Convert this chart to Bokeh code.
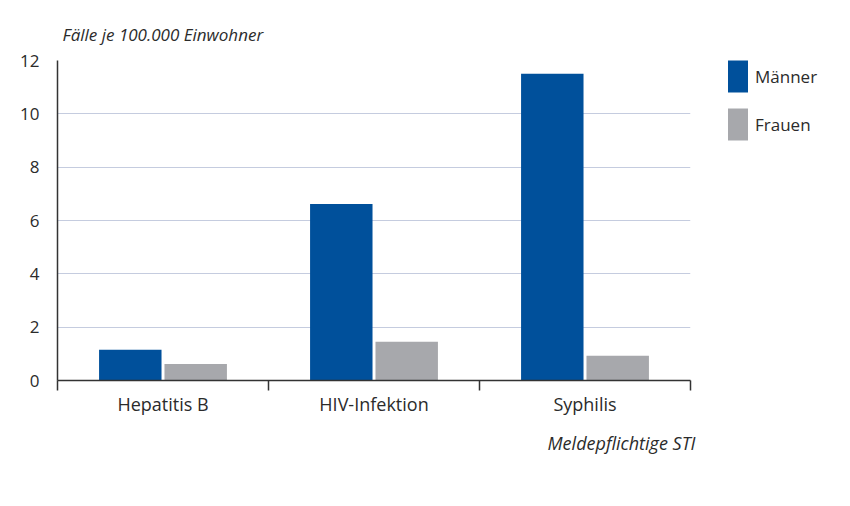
import numpy as np
from bokeh.plotting import figure
from bokeh.models import (Range1d, FixedTicker, Legend, LegendItem, Title, ColumnDataSource)
from bokeh.transform import dodge
from bokeh.embed import file_html
from bokeh.resources import INLINE

categories = ["Hepatitis B", "HIV-Infektion", "Syphilis"]
maenner = [1.15, 6.62, 11.5]
frauen = [0.62, 1.45, 0.93]
y_ticks = [0, 2, 4, 6, 8, 10, 12]
series_names = ["Männer", "Frauen"]

BLUE = "#00509B"
GREY = "#A7A8AC"
FONT = "Open Sans"
TXT = "#2b2b2b"

centers = np.arange(len(categories)) + 0.5
bounds = list(np.arange(len(categories) + 1).astype(float))
src = ColumnDataSource(dict(x=centers, cat=categories, m=maenner, f=frauen))

p = figure(x_range=Range1d(0, len(categories)), y_range=Range1d(0, 12),
           frame_width=633, frame_height=320,
           min_border_left=57, min_border_top=60, min_border_right=10, min_border_bottom=10,
           output_backend="svg", toolbar_location=None, outline_line_color=None,
           background_fill_color="white", border_fill_color="white")

p.title = Title(text="Fälle je 100.000 Einwohner", text_font=FONT, text_font_style="italic",
                text_font_size="17px", text_color=TXT, offset=5, standoff=30)

r1 = p.vbar(x=dodge("x", -0.155), top="m", width=0.296, source=src,
            fill_color=BLUE, line_color=None)
r2 = p.vbar(x=dodge("x", 0.155), top="f", width=0.296, source=src,
            fill_color=GREY, line_color=None)

# y axis
p.yaxis.ticker = FixedTicker(ticks=y_ticks)
p.yaxis.major_tick_line_color = None
p.yaxis.minor_tick_line_color = None
p.yaxis.axis_line_color = "#333333"
p.yaxis.axis_line_width = 1.5
p.yaxis.major_label_text_font = FONT
p.yaxis.major_label_text_font_size = "17px"
p.yaxis.major_label_text_color = TXT
p.yaxis.major_label_standoff = 12
p.ygrid.grid_line_color = "#C5CCDF"
p.ygrid.grid_line_width = 1.2
p.xgrid.visible = False

# x axis: labels at centres, ticks at boundaries
p.xaxis.ticker = FixedTicker(ticks=list(centers), minor_ticks=bounds)
p.xaxis.major_label_overrides = {float(c): name for c, name in zip(centers, categories)}
p.xaxis.major_tick_line_color = None
p.xaxis.minor_tick_out = 10
p.xaxis.minor_tick_in = 0
p.xaxis.minor_tick_line_color = "#333333"
p.xaxis.minor_tick_line_width = 1.5
p.xaxis.axis_line_color = "#333333"
p.xaxis.axis_line_width = 1.5
p.xaxis.major_label_text_font = FONT
p.xaxis.major_label_text_font_size = "18px"
p.xaxis.major_label_text_color = TXT
p.xaxis.major_label_standoff = 1

p.add_layout(Title(text="Meldepflichtige STI", align="right", text_font=FONT,
                   text_font_style="italic", text_font_size="18px", text_color=TXT,
                   offset=-5, standoff=20), "below")

legend = Legend(items=[LegendItem(label=series_names[0], renderers=[r1]),
                       LegendItem(label=series_names[1], renderers=[r2])],
                location=(35, 236), glyph_width=25, glyph_height=40, spacing=8,
                padding=0, margin=0, border_line_color=None, label_standoff=5,
                label_text_font=FONT, label_text_font_size="17px", label_text_color=TXT)
p.add_layout(legend, "right")

open("out.html", "w").write(file_html(p, INLINE))
